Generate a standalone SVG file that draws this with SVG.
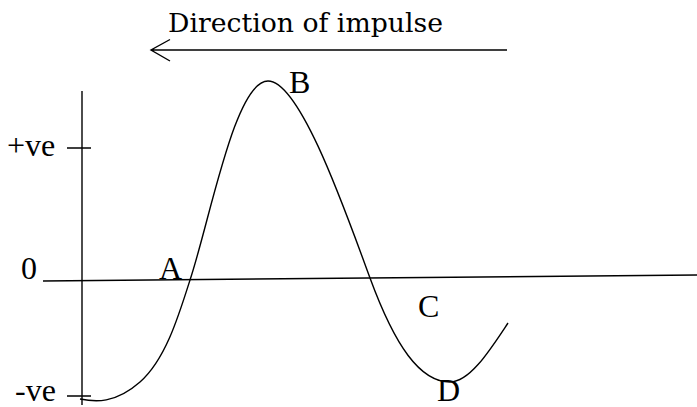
<svg xmlns="http://www.w3.org/2000/svg" width="697" height="407" viewBox="0 0 697 407">
<style>
.ln{fill:none;stroke:#000;stroke-width:1.4}
.lb{font-family:"Liberation Serif","Times New Roman",serif;font-size:32px;fill:#000}
.tt{font-family:"DejaVu Serif","Liberation Serif",serif;font-size:26.5px;fill:#000}
</style>
<rect width="697" height="407" fill="#fff"/>
<g id="title">
<text class="tt" x="168" y="32" textLength="275" lengthAdjust="spacingAndGlyphs">Direction of impulse</text>
</g>
<g id="connectors">
<path class="ln" d="M151,50 L507,50 M170,39.5 L151,50 L170,61"/>
<path class="ln" d="M82,91 L82,405"/>
<path class="ln" d="M43,281 L697,275"/>
<path class="ln" d="M67,148 L91,148 M67,396 L91,396"/>
<path class="ln" d="M80,399 C95,402 115,404 140,382 C165,360 178,318 190,280 C210,220 235,81 268,81 C300,81 345,210 370,278 C395,346 420,382 450,382 C470,382 490,350 508,323"/>
</g>
<g id="axis-labels">
<text class="lb" x="7" y="156">+ve</text>
<text class="lb" x="21" y="279">0</text>
<text class="lb" x="15" y="401">-ve</text>
</g>
<g id="point-labels">
<text class="lb" x="159" y="279">A</text>
<text class="lb" x="289" y="93">B</text>
<text class="lb" x="418" y="317">C</text>
<text class="lb" x="437" y="401">D</text>
</g>
</svg>
